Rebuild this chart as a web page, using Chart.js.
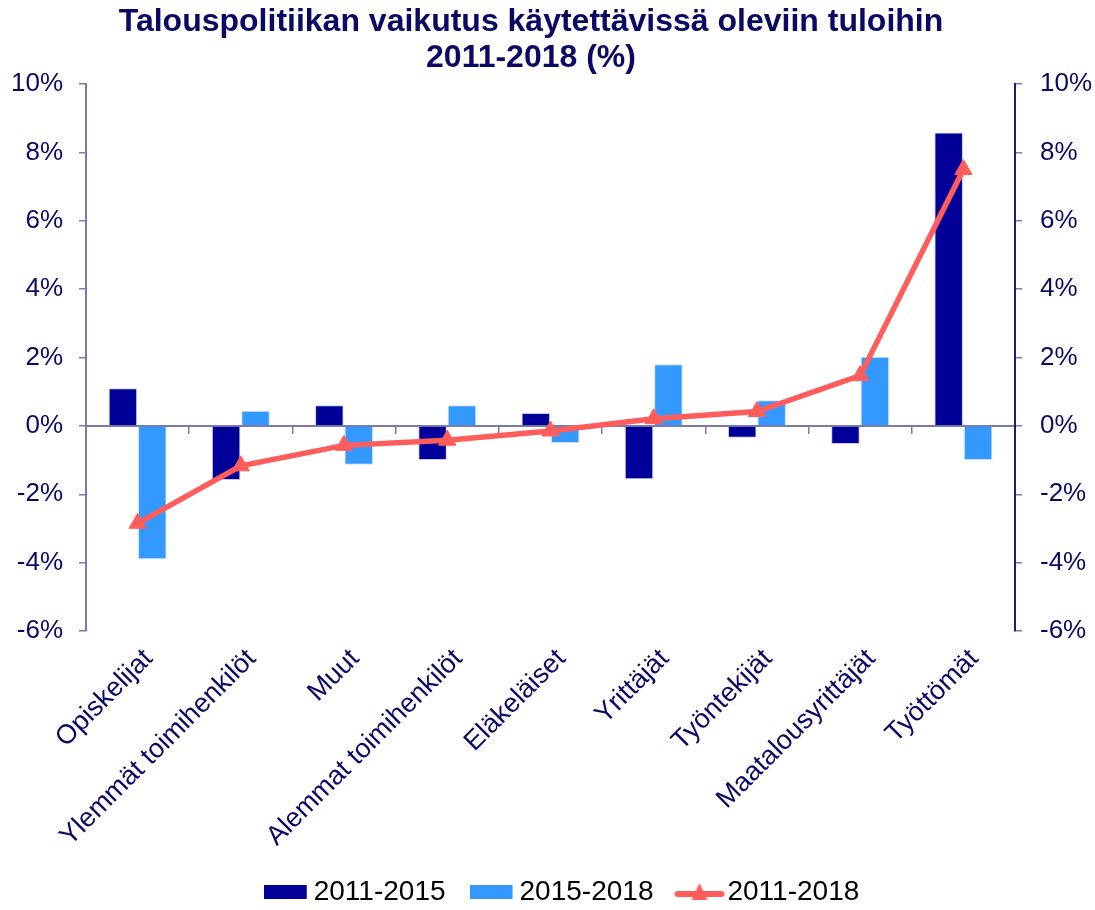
<!DOCTYPE html>
<html>
<head>
<meta charset="utf-8">
<script src="https://cdn.jsdelivr.net/npm/chart.js@4.4.1/dist/chart.umd.min.js"></script>
<style>
  html, body { margin: 0; padding: 0; background: #fff; }
  #wrap { width: 1095px; height: 910px; }
</style>
</head>
<body>
<div id="wrap"><canvas id="chart" width="1095" height="910"></canvas></div>
<script>
// Ryhmät
const categories = ["Opiskelijat", "Ylemmät toimihenkilöt", "Muut", "Alemmat toimihenkilöt",
    "Eläkeläiset", "Yrittäjät", "Työntekijät", "Maatalousyrittäjät", "Työttömät"];

// arvot (%)
const values2011_2015 = [1.1, -1.58, 0.6, -1.0, 0.38, -1.56, -0.35, -0.53, 8.58];
const values2015_2018 = [-3.9, 0.44, -1.14, 0.6, -0.5, 1.8, 0.75, 2.02, -1.0];
const values2011_2018 = [-2.85, -1.17, -0.57, -0.42, -0.15, 0.21, 0.42, 1.47, 7.5];

const yTicks = [-6, -4, -2, 0, 2, 4, 6, 8, 10];

const navy = "#0a0a64";
const axisGray = "#7a7aa8";
const darkBlue = "#000099";
const lightBlue = "#3399ff";
const red = "#ff5c5c";
const fontFamily = "Liberation Sans, Arial";

// pienet kuvat legendaan
function legendRect(color) {
    let c = document.createElement("canvas");
    c.width = 44; c.height = 14;
    let g = c.getContext("2d");
    g.fillStyle = color;
    g.fillRect(0, 0, 43, 14);
    return c;
}
function legendLine() {
    let c = document.createElement("canvas");
    c.width = 52; c.height = 22;
    let g = c.getContext("2d");
    g.strokeStyle = red;
    g.lineWidth = 6;
    g.lineCap = "round";
    g.beginPath(); g.moveTo(4, 13); g.lineTo(48, 13); g.stroke();
    g.fillStyle = red;
    g.beginPath(); g.moveTo(26, 2); g.lineTo(34, 19); g.lineTo(18, 19); g.closePath(); g.fill();
    return c;
}
const legendIcons = [legendRect(darkBlue), legendRect(lightBlue), legendLine()];

const yAxisBase = {
    min: -6,
    max: 10,
    afterBuildTicks: (scale) => { scale.ticks = yTicks.map(v => ({ value: v })); },
    ticks: {
        color: navy,
        font: { family: fontFamily, size: 26 },
        callback: (v) => v + "%"
    },
    grid: { drawOnChartArea: false, drawTicks: true, tickLength: 7, color: axisGray, lineWidth: 1.5 }
};

// otsikko hieman vasemmalle ja selite oikealle, kuten alkuperäisessä
const boxShift = {
    id: "boxShift",
    afterLayout: (chart) => {
        if (chart.titleBlock) chart.titleBlock.right -= 33;
        if (chart.legend) chart.legend.left += 36;
    }
};

const ctx = document.getElementById("chart").getContext("2d");

new Chart(ctx, {
    type: "bar",
    data: {
        labels: categories,
        datasets: [
            {
                label: "2011-2015",
                data: values2011_2015,
                backgroundColor: darkBlue,
                borderColor: "#c8c8ee",
                borderWidth: 1,
                order: 2
            },
            {
                label: "2015-2018",
                data: values2015_2018,
                backgroundColor: lightBlue,
                borderColor: "#c8e0ff",
                borderWidth: 1,
                order: 2
            },
            {
                type: "line",
                label: "2011-2018",
                data: values2011_2018,
                borderColor: red,
                backgroundColor: red,
                borderWidth: 5.5,
                pointStyle: "triangle",
                pointRadius: 10,
                pointBorderWidth: 1,
                tension: 0,
                order: 0
            }
        ]
    },
    plugins: [boxShift],
    options: {
        responsive: false,
        animation: false,
        layout: { padding: { left: 0, right: 0, top: 4, bottom: -6 } },
        datasets: {
            bar: { categoryPercentage: 0.57, barPercentage: 0.97 }
        },
        scales: {
            x: {
                position: "bottom",
                grid: { display: false },
                border: { display: false },
                ticks: {
                    color: navy,
                    font: { family: fontFamily, size: 27 },
                    minRotation: 45,
                    maxRotation: 45,
                    labelOffset: 11,
                    padding: 4
                },
                afterFit: (scale) => {
                    let lg = scale.chart.legend;
                    let lh = lg ? lg.height : 48;
                    scale.height = scale.chart.height + 6 - lh - 631;
                }
            },
            x0: {
                type: "category",
                position: { y: 0 },
                offset: true,
                ticks: { display: false },
                grid: { offset: true, drawOnChartArea: false, drawTicks: true, tickLength: 7, color: axisGray, lineWidth: 1.5 },
                border: { color: axisGray, width: 2 }
            },
            y: Object.assign({}, yAxisBase, {
                position: "left",
                border: { color: axisGray, width: 2 },
                ticks: Object.assign({}, yAxisBase.ticks, { padding: 16 }),
                afterFit: (scale) => { scale.width = 86; }
            }),
            y2: Object.assign({}, yAxisBase, {
                position: "right",
                border: { color: "#1e1e6e", width: 2 },
                ticks: Object.assign({}, yAxisBase.ticks, { padding: 18 }),
                afterFit: (scale) => { scale.width = 80; }
            })
        },
        plugins: {
            title: {
                display: true,
                text: ["Talouspolitiikan vaikutus käytettävissä oleviin tuloihin", "2011-2018 (%)"],
                color: navy,
                font: { family: fontFamily, size: 32, weight: "bold", lineHeight: 1.125 },
                padding: { top: 0, bottom: 8 }
            },
            legend: {
                position: "bottom",
                labels: {
                    usePointStyle: true,
                    pointStyleWidth: 28,
                    color: "#000",
                    font: { family: fontFamily, size: 28 },
                    padding: 32,
                    sort: (a, b) => a.datasetIndex - b.datasetIndex,
                    generateLabels: (chart) => {
                        let items = Chart.defaults.plugins.legend.labels.generateLabels(chart);
                        items.forEach((it) => { it.pointStyle = legendIcons[it.datasetIndex]; });
                        return items;
                    }
                }
            },
            tooltip: { enabled: false }
        }
    }
});
</script>
</body>
</html>
